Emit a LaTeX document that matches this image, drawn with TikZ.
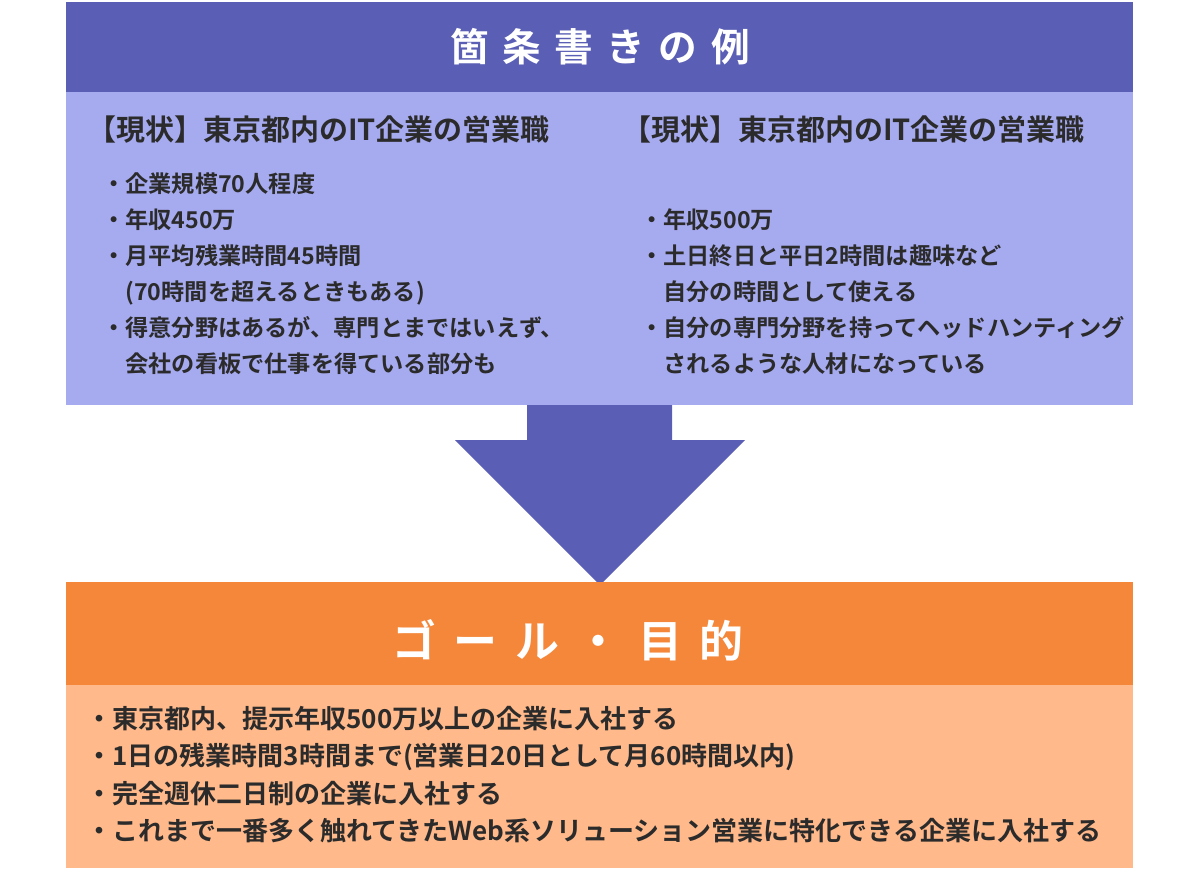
\documentclass[tikz,border=0pt]{standalone}
\usepackage{fontspec}
\setmainfont{Noto Sans CJK JP}[BoldFont={Noto Sans CJK JP Bold}]
\definecolor{navy}{HTML}{5A5FB5}
\definecolor{lilac}{HTML}{A6AAEF}
\definecolor{tangerine}{HTML}{F4873A}
\definecolor{peach}{HTML}{FFB98A}
\definecolor{ink}{HTML}{2B2B2B}
\newcommand{\ind}{\hspace*{1em}}
\tikzset{
  band/.style = {draw=none, inner sep=0pt, anchor=north west},
  title/.style = {text=white, font=\bfseries\fontsize{22}{26}\selectfont},
  head/.style = {text=ink, anchor=west, inner sep=0pt, font=\bfseries\fontsize{16.5}{20}\selectfont},
  items/.style = {text=ink, anchor=north west, inner sep=0pt, align=left,
                  font=\bfseries\fontsize{13.2}{20.5}\selectfont},
  goals/.style = {text=ink, anchor=north west, inner sep=0pt, align=left,
                  font=\bfseries\fontsize{14.8}{21.3}\selectfont}
}
\begin{document}
\begin{tikzpicture}[x=0.02cm, y=-0.02cm]
\useasboundingbox (0,0) rectangle (1200,870);
% upper part
\fill[navy] (66,2) rectangle (1133,92);
\fill[lilac] (66,92) rectangle (1133,405);
\node[title] (examples) at (600,47) {箇\hspace{0.35em}条\hspace{0.35em}書\hspace{0.35em}き\hspace{0.35em}の\hspace{0.35em}例};
\node[head] (nowL) at (87,130) {【現状】東京都内のIT企業の営業職};
\node[head] (nowR) at (622,130) {【現状】東京都内のIT企業の営業職};
\node[items] (listL) at (102,172) {・企業規模70人程度\\・年収450万\\・月平均残業時間45時間\\\ind(70時間を超えるときもある)\\・得意分野はあるが、専門とまではいえず、\\\ind 会社の看板で仕事を得ている部分も};
\node[items] (listR) at (640,208) {・年収500万\\・土日終日と平日2時間は趣味など\\\ind 自分の時間として使える\\・自分の専門分野を持ってヘッドハンティング\\\ind されるような人材になっている};
% arrow
\fill[navy] (527,405) -- (672,405) -- (672,440) -- (745,440) -- (600,585)
  -- (455,440) -- (527,440) -- cycle;
% lower part
\fill[tangerine] (66,582) rectangle (1133,685);
\fill[peach] (66,685) rectangle (1133,868);
\node[title, font=\bfseries\fontsize{25}{30}\selectfont] (goal) at (568,640) {ゴ\hspace{0.4em}ー\hspace{0.4em}ル\hspace{0.4em}・\hspace{0.4em}目\hspace{0.4em}的};
\node[goals] (goalList) at (86,706) {・東京都内、提示年収500万以上の企業に入社する\\・1日の残業時間3時間まで(営業日20日として月60時間以内)\\・完全週休二日制の企業に入社する\\・これまで一番多く触れてきたWeb系ソリューション営業に特化できる企業に入社する};
\end{tikzpicture}
\end{document}
